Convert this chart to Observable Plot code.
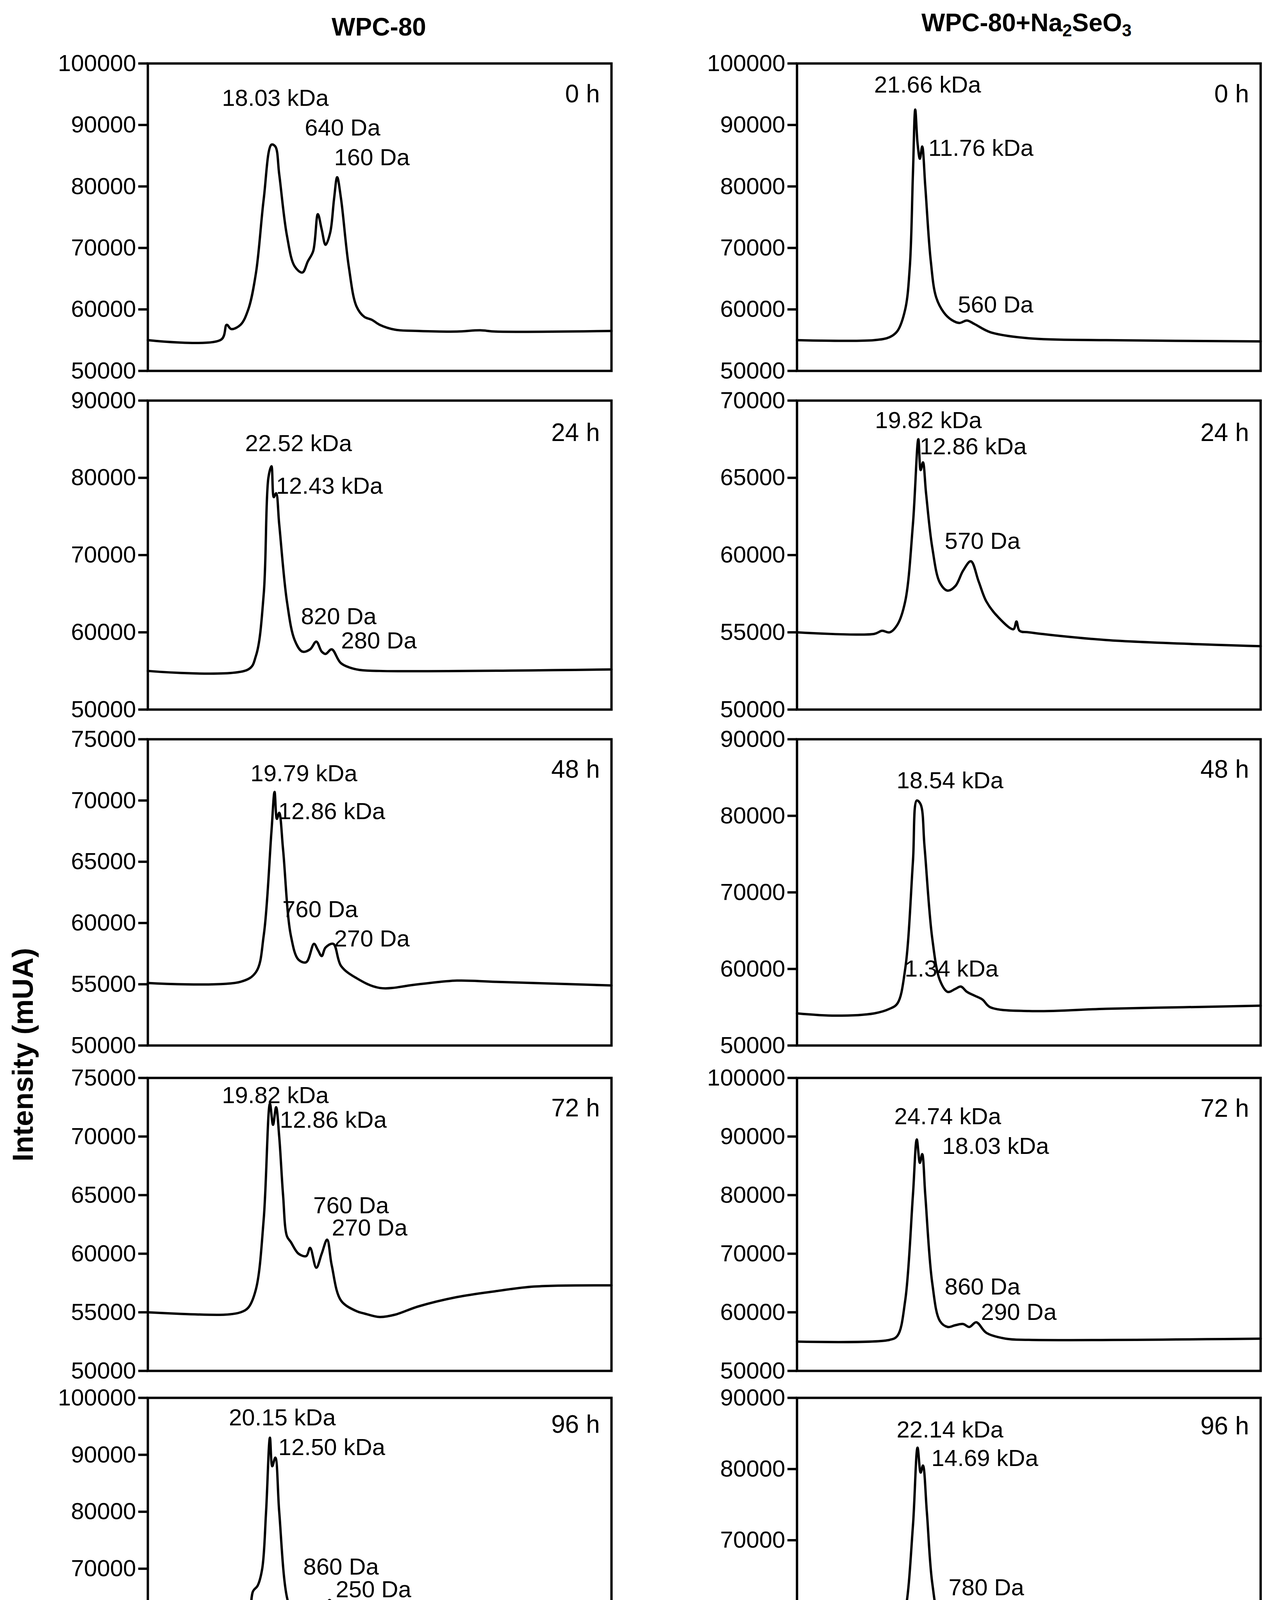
<!DOCTYPE html>
<html><head><meta charset="utf-8">
<script src="https://cdn.jsdelivr.net/npm/d3@7"></script>
<script src="https://cdn.jsdelivr.net/npm/@observablehq/plot@0.6"></script>
<style>
body{margin:0;background:#fff;}
#wrap{position:relative;width:3254px;height:5389px;background:#fff;overflow:hidden;font-family:"Liberation Sans",Arial,sans-serif;}
.p{position:absolute;}
.t{position:absolute;font-family:"Liberation Sans",Arial,sans-serif;font-weight:bold;white-space:nowrap;color:#000;}
</style></head><body>
<div id="wrap">
<div class="t" style="left:970px;top:69px;font-size:64px;transform:translate(-50%,-50%)">WPC-80</div>
<div class="t" style="left:2628px;top:62px;font-size:64px;transform:translate(-50%,-50%)">WPC-80+Na<sub style="font-size:44px">2</sub>SeO<sub style="font-size:44px">3</sub></div>
<div class="t" style="left:58px;top:2700px;font-size:74px;transform:translate(-50%,-50%) rotate(-90deg)">Intensity (mUA)</div>
<div class="t" style="left:970px;top:5335px;font-size:68px;transform:translate(-50%,-50%)">t<sub style="font-size:46px">R</sub> (min)</div>
<div class="t" style="left:2628px;top:5335px;font-size:68px;transform:translate(-50%,-50%)">t<sub style="font-size:46px">R</sub> (min)</div>
</div>
<script>
// time (min), intensity (mUA)
const L0=[[0,55000],[9.5,55100],[10.2,57500],[10.8,56800],[12,57500],[13,60000],[14,66000],[15,78000],[16,86800],[16.5,86500],[17,82000],[18,72000],[19,67000],[20,66000],[20.7,67800],[21.4,69500],[22,75500],[22.5,73000],[23,70500],[23.6,72500],[24.1,78000],[24.5,81500],[25,78000],[26,67000],[27,60500],[28,58800],[29,58300],[30,57500],[32,56700],[35,56500],[40,56400],[43,56600],[45,56400],[60,56500]];
const R0=[[0,55000],[10,55000],[12,55500],[13,56500],[14,60000],[14.6,67000],[15.0,82000],[15.3,92500],[15.6,87000],[15.9,84500],[16.2,86500],[16.6,80000],[17.3,68000],[18,62000],[19,59500],[20,58300],[21,57800],[22,58200],[23,57600],[25,56300],[30,55300],[40,55000],[60,54800]];
const L1=[[0,55000],[13,55200],[14,57000],[15,65000],[15.6,80000],[16.0,81500],[16.3,77500],[16.6,78000],[17,74000],[18,64000],[19,59000],[20,57500],[21,57800],[21.8,58800],[22.5,57500],[23,57200],[23.8,57800],[25,56000],[27,55200],[30,55000],[60,55200]];
const R1=[[0,55000],[10,54900],[11,55100],[12,55000],[13,55500],[14,57000],[15,62000],[15.7,67500],[16.0,65500],[16.3,66000],[16.7,64000],[17.5,60500],[18.5,58200],[19.5,57700],[20.5,58000],[21.5,59000],[22.5,59600],[23.5,58300],[24.5,57000],[26,56000],[28,55200],[28.4,55700],[28.8,55100],[30,55000],[40,54500],[60,54100]];
const L2=[[0,55100],[12,55200],[14,56000],[15,59000],[16,67500],[16.4,70700],[16.7,68500],[17,69000],[17.5,66000],[18.5,59000],[19.5,57000],[20.5,56800],[21.5,58300],[22,57800],[22.5,57300],[23,58000],[24,58300],[25,56500],[27,55500],[30,54700],[35,55000],[40,55300],[45,55200],[60,54900]];
const R2=[[0,54200],[5,53900],[10,54200],[12,54800],[13,55500],[14,60000],[15,74000],[15.5,82000],[16,81500],[16.5,76000],[17.5,64000],[18.5,58500],[19.5,57000],[20.5,57400],[21.2,57700],[22,57000],[23,56500],[24,56000],[25,55000],[30,54500],[40,54800],[50,55000],[60,55200]];
const L3=[[0,55000],[10,54800],[12,55000],[13,55400],[14,57000],[15,63000],[15.8,72800],[16.2,71000],[16.6,72500],[17,70000],[17.5,65000],[18,61500],[18.5,61000],[19.5,60000],[20.5,59800],[21,60500],[21.8,58800],[22.5,60000],[23.2,61200],[23.8,59000],[25,56000],[27,55100],[28,54900],[30,54600],[32,54800],[35,55500],[40,56300],[45,56800],[50,57200],[60,57300]];
const R3=[[0,55000],[12,55300],[13,56000],[14,62000],[15,80000],[15.5,89500],[15.9,85500],[16.2,87000],[16.6,80000],[17.5,65000],[18.5,58500],[19.5,57500],[20.5,57800],[21.5,58000],[22.3,57500],[23.2,58300],[24.5,56500],[27,55500],[30,55300],[60,55500]];
const L4=[[0,55000],[10,55000],[12,55500],[13,58000],[13.6,66000],[14.2,67000],[14.8,70000],[15.3,80000],[15.8,93000],[16.1,88000],[16.5,89500],[17,80000],[18,65000],[19,61000],[20,60000],[20.8,61200],[21.5,60000],[22.5,60500],[23.5,64500],[24,63000],[25,58000],[27,56000],[30,55500],[40,55200],[50,54900],[60,54800]];
const R4=[[0,55000],[10,55200],[11,55000],[12,55500],[13,56500],[14,60000],[15,72000],[15.6,83000],[16,79500],[16.3,80500],[16.8,74000],[17.5,64000],[18.5,58500],[19.5,57500],[20.5,58000],[21.5,57800],[22.3,57400],[23.2,58300],[24.5,56300],[27,55500],[60,55500]];
const L5=[[0,55300],[2,54800],[4,54400],[8,54000],[10,54200],[12,54500],[13,55500],[14,62000],[15,74000],[15.7,78000],[16.2,74800],[16.8,74000],[17.5,66000],[18.5,60000],[19.5,58300],[20.5,57800],[21.5,58500],[22.3,58800],[23,61000],[23.8,62500],[24.5,60500],[25.5,57500],[27,55800],[30,54800],[35,54200],[40,54200],[50,54700],[60,55000]];
const R5=[[0,55300],[10,55400],[11,55200],[12,55500],[13,56500],[14,62000],[15,78000],[15.6,83500],[16.1,82500],[16.6,76000],[17.5,63000],[18.5,58500],[19.5,57700],[20.5,57600],[21.5,58000],[22.3,58000],[23.3,58700],[24.5,57000],[27,55700],[30,55400],[56.2,55200],[56.4,55700],[56.6,55200],[60,55400]];

const yRanges=[[50000,100000],[50000,90000],[50000,75000],[50000,75000],[50000,100000],[50000,80000]];
const yRangesR=[[50000,100000],[50000,70000],[50000,90000],[50000,100000],[50000,90000],[50000,90000]];
const hours=["0 h","24 h","48 h","72 h","96 h","120 h"];
const hourYL=[95000,85800,72500,72400,95300,76900];
const hourYR=[95000,67900,86000,94700,86000,86000];
const annL=[
 [["18.03 kDa",16.5,94300],["640 Da",25.2,89500],["160 Da",29.0,84700]],
 [["22.52 kDa",19.5,84400],["12.43 kDa",23.5,78900],["820 Da",24.7,62000],["280 Da",29.9,58900]],
 [["19.79 kDa",20.2,72200],["12.86 kDa",23.8,69100],["760 Da",22.3,61100],["270 Da",29.0,58700]],
 [["19.82 kDa",16.5,73500],["12.86 kDa",24.0,71400],["760 Da",26.3,64100],["270 Da",28.7,62200]],
 [["20.15 kDa",17.4,96500],["12.50 kDa",23.8,91300],["860 Da",25.0,70300],["250 Da",29.2,66300]],
 [["19.28 kDa",23.1,78100],["230 Da",27.5,64300]]];
const annR=[
 [["21.66 kDa",16.9,96500],["11.76 kDa",23.8,86200],["560 Da",25.7,60700]],
 [["19.82 kDa",17.0,68700],["12.86 kDa",22.8,67000],["570 Da",24.0,60900]],
 [["18.54 kDa",19.8,84600],["1.34 kDa",20.0,60000]],
 [["24.74 kDa",19.5,93400],["18.03 kDa",25.7,88300],["860 Da",24.0,64300],["290 Da",28.7,60000]],
 [["22.14 kDa",19.8,85500],["14.69 kDa",24.3,81500],["780 Da",24.5,63300],["230 Da",29.0,60200]],
 [["22.14 kDa",18.6,86200],["890 Da",25.0,63800],["130 Da",28.3,60500]]];
const xTicks=[0,10,20,30,40,50,60];
const xMinor=d3.range(0,61,2);

const tops=[162,1025,1892,2759,3578,4389];
const bottoms=[949,1816,2676,3509,4307,5146];
const lefts=[378,2040];
const FW=1187;
const font='"Liberation Sans",Arial,sans-serif';

function panel(data,dom,hour,hy,ann,col,row){
  const last=row===5;
  const span=dom[1]-dom[0];
  const step=span<=25000?5000:10000;
  const yt=d3.range(dom[0],dom[1]+1,step);
  const mL=340,mR=40,mT=40,mB=last?170:40;
  const h=bottoms[row]-tops[row];
  const marks=[
    Plot.line(data,{x:d=>d[0],y:d=>d[1],stroke:"#000",strokeWidth:6,curve:"catmull-rom"}),
    Plot.frame({stroke:"#000",strokeWidth:6}),
    Plot.axisY(yt,{tickSize:24,tickPadding:6,fontSize:60,strokeWidth:6,tickFormat:d=>String(d),fill:"#000"}),
    Plot.text(ann,{x:d=>d[1],y:d=>d[2],text:d=>d[0],fontSize:60,fill:"#000"}),
    Plot.text([hour],{x:58.5,y:hy,text:d=>d,textAnchor:"end",fontSize:64,fill:"#000"})
  ];
  if(last){
    marks.push(Plot.axisX(xMinor,{tickSize:24,strokeWidth:6,tickFormat:()=>""}));
    marks.push(Plot.axisX(xTicks,{tickSize:44,tickPadding:14,strokeWidth:6,fontSize:64,fill:"#000"}));
  } else {
    marks.push(Plot.axisX([],{}));
  }
  const svg=Plot.plot({
    width:FW+mL+mR,height:h+mT+mB,
    marginLeft:mL,marginRight:mR,marginTop:mT,marginBottom:mB,
    x:{domain:[0,60]},y:{domain:dom},
    style:{fontFamily:font,background:"transparent",color:"#000",overflow:"visible"},
    marks
  });
  svg.classList.add("p");
  svg.style.left=(lefts[col]-mL)+"px";
  svg.style.top=(tops[row]-mT)+"px";
  document.getElementById("wrap").appendChild(svg);
}
const Ls=[L0,L1,L2,L3,L4,L5], Rs=[R0,R1,R2,R3,R4,R5];
for(let i=0;i<6;i++){
  panel(Ls[i],yRanges[i],hours[i],hourYL[i],annL[i],0,i);
  panel(Rs[i],yRangesR[i],hours[i],hourYR[i],annR[i],1,i);
}
</script>
</body></html>
